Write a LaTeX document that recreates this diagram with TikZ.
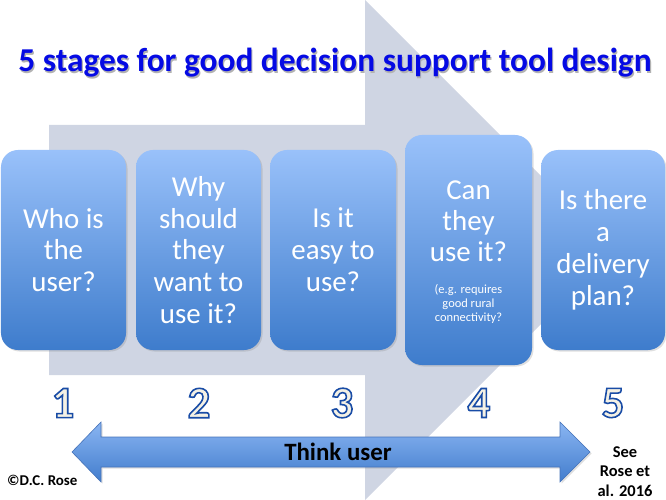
\documentclass[tikz,border=0pt]{standalone}
\usepackage{fontspec}
\setmainfont{Carlito}
\usetikzlibrary{shadows}
\definecolor{bgarrow}{RGB}{207,213,227}
\definecolor{boxtop}{RGB}{153,193,250}
\definecolor{boxbot}{RGB}{62,124,204}
\definecolor{arrtop}{RGB}{138,181,242}
\definecolor{arrbot}{RGB}{66,125,205}
\definecolor{arrline}{RGB}{70,115,185}
\definecolor{titleblue}{RGB}{5,10,228}
\definecolor{numfill}{RGB}{244,241,229}
\tikzset{
  stagebox/.style={rounded corners=17bp, top color=boxtop, bottom color=boxbot,
    draw=none, minimum height=200bp, inner sep=0pt, text=white, align=center,
    font=\fontsize{29}{32}\selectfont,
    drop shadow={shadow xshift=1.5bp, shadow yshift=-1.5bp, opacity=0.25}},
  numlabel/.style={inner sep=0pt, font=\fontsize{45}{45}\selectfont\bfseries},
}
\newcommand{\stagenum}[1]{\textcolor{numfill}{\special{pdf:literal direct 2 Tr 1.6 w 0.1 0.3 0.65 RG}#1\special{pdf:literal direct 0 Tr 0.4 w}}}
\begin{document}
\begin{tikzpicture}[x=1bp,y=-1bp]
\useasboundingbox (0,0) rectangle (666,500);
% background arrow
\fill[bgarrow] (49,125) -- (365,125) -- (365,0) -- (615,250) -- (365,500)
  -- (365,375) -- (49,375) -- cycle;
% title
\node[anchor=base, text=black!30, font=\fontsize{33.5}{36}\selectfont\bfseries]
  (titleshadow) at (336.2,73.2) {5 stages for good decision support tool design};
\node[anchor=base, text=titleblue, font=\fontsize{33.5}{36}\selectfont\bfseries]
  (title) at (335,72) {5 stages for good decision support tool design};
% stage boxes
\node[stagebox, minimum width=125bp] (b1) at (63.5,250) {Who is\\the\\user?};
\node[stagebox, minimum width=125bp] (b2) at (198.5,250) {Why\\should\\they\\want to\\use it?};
\node[stagebox, minimum width=126bp] (b3) at (333,250) {Is it\\easy to\\use?};
\node[stagebox, minimum width=127bp, minimum height=230bp] (b4) at (468.5,250)
  {\parbox[c][230bp][t]{125bp}{\vspace*{46bp}\centering\fontsize{29}{31}\selectfont Can\\they\\use it?\par
   \vspace{18bp}\fontsize{12.5}{14}\selectfont (e.g. requires\\good rural\\connectivity?\par}};
\node[stagebox, minimum width=124bp] (b5) at (603,250) {Is there\\a\\delivery\\plan?};
% numbers
\node[numlabel] (n1) at (63,403) {\stagenum{1}};
\node[numlabel] (n2) at (199,403) {\stagenum{2}};
\node[numlabel] (n3) at (342,403) {\stagenum{3}};
\node[numlabel] (n4) at (479,403) {\stagenum{4}};
\node[numlabel] (n5) at (613,403) {\stagenum{5}};
% think user double arrow
\path[top color=arrtop, bottom color=arrbot, draw=arrline, line width=0.6bp,
  drop shadow={shadow xshift=1.5bp, shadow yshift=-1.5bp, opacity=0.25}]
  (72,452) -- (101,422) -- (101,437) -- (560,437) -- (560,422) -- (590,452)
  -- (560,482) -- (560,467) -- (101,467) -- (101,482) -- cycle;
\node[inner sep=0pt, font=\fontsize{25}{25}\selectfont\bfseries] (think) at (338,452) {Think user};
% credits
\node[anchor=base west, inner sep=0pt, font=\fontsize{15}{15}\selectfont\bfseries]
  (credit) at (7,485) {©D.C. Rose};
\node[anchor=north, inner sep=0pt, align=center,
  font=\fontsize{16.5}{19.5}\selectfont\bfseries] (ref) at (625,446.5) {See\\Rose et\\al. 2016};
\end{tikzpicture}
\end{document}
